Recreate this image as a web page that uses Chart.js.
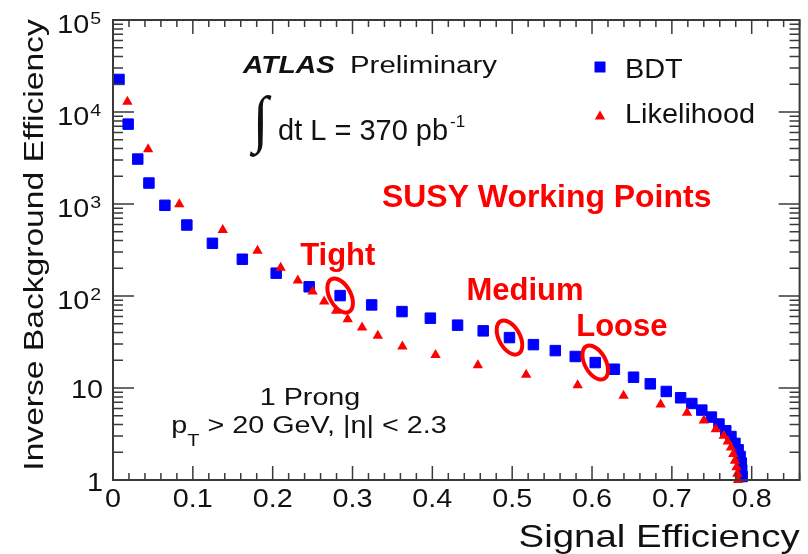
<!DOCTYPE html>
<html lang="en">
<head>
    <meta charset="UTF-8">
    <title>Tau ID: BDT vs Likelihood</title>
    <script src="https://cdn.jsdelivr.net/npm/chart.js"></script>
    <style>
        body {
            margin: 0;
            background-color: #fff;
        }
        #wrap {
            width: 808px;
            height: 554px;
        }
    </style>
</head>
<body>
    <div id="wrap"><canvas id="effChart" width="808" height="554"></canvas></div>

    <script>
        // BDT curve: signal efficiency vs inverse background efficiency
        const bdtEff = [0.0075, 0.019, 0.031, 0.045, 0.065, 0.0925, 0.1245, 0.162, 0.2044, 0.2457,
                        0.2845, 0.324, 0.362, 0.3975, 0.4316, 0.4637, 0.4966, 0.5266, 0.554, 0.579,
                        0.604, 0.628, 0.652, 0.673, 0.693, 0.711, 0.725, 0.7375, 0.7495, 0.759,
                        0.7675, 0.774, 0.779, 0.783, 0.7855, 0.787, 0.7875, 0.788];
        const bdtRej = [22600, 7380, 3080, 1690, 968, 591, 374, 251, 177, 126,
                        101, 80, 67.7, 57.4, 48.2, 41.8, 35.3, 29.6, 25.5, 22,
                        18.9, 16, 13.1, 11.1, 9.17, 7.83, 6.79, 5.75, 4.83, 4.06,
                        3.43, 2.97, 2.5, 2.13, 1.8, 1.53, 1.29, 1.09];

        // Likelihood curve
        const llhEff = [0.018, 0.044, 0.083, 0.1375, 0.181, 0.21, 0.2315, 0.25, 0.2645, 0.2795,
                        0.294, 0.312, 0.3317, 0.3625, 0.404, 0.457, 0.5175, 0.582, 0.6395, 0.686,
                        0.719, 0.74, 0.755, 0.765, 0.77, 0.774, 0.777, 0.779, 0.781, 0.782, 0.783];
        const llhRej = [12900, 3930, 993, 522, 311, 203, 147, 112, 87, 69,
                        56, 45.4, 36.9, 28.2, 22.9, 17.7, 13.9, 10.7, 8.22, 6.6,
                        5.38, 4.44, 3.57, 3.03, 2.62, 2.25, 1.92, 1.62, 1.38, 1.17, 1.0];

        // SUSY working points (index into the BDT curve)
        const wpNames = ['Tight', 'Medium', 'Loose'];
        const wpIndex = [10, 16, 20];

        // axis labels
        const xTicks = [0, 0.1, 0.2, 0.3, 0.4, 0.5, 0.6, 0.7, 0.8];
        const xTickLabels = ['0', '0.1', '0.2', '0.3', '0.4', '0.5', '0.6', '0.7', '0.8'];
        const yDecades = [0, 1, 2, 3, 4, 5];

        const FONT = "'Liberation Sans', Arial, sans-serif";
        const RED = '#ff0000';
        const BLUE = '#0000ff';
        const INK = '#111';

        // text stretched along its baseline (the ROOT fonts run wide)
        function drawText(ctx, str, x, y, o) {
            ctx.save();
            ctx.font = o.font;
            ctx.fillStyle = o.color || INK;
            ctx.textAlign = 'left';
            ctx.textBaseline = 'alphabetic';
            const sx = o.stretch || 1;
            const w = ctx.measureText(str).width * sx;
            let x0 = x;
            if (o.align === 'center') x0 = x - w / 2;
            if (o.align === 'right') x0 = x - w;
            ctx.translate(x0, y);
            ctx.scale(sx, 1);
            ctx.fillText(str, 0, 0);
            ctx.restore();
            return w;
        }

        function textWidth(ctx, str, font, stretch) {
            ctx.save();
            ctx.font = font;
            const w = ctx.measureText(str).width * (stretch || 1);
            ctx.restore();
            return w;
        }

        function squareMark(ctx, cx, cy, s, color) {
            ctx.fillStyle = color;
            ctx.fillRect(cx - s / 2, cy - s / 2, s, s);
        }

        function triangleMark(ctx, cx, cy, w, h, color) {
            ctx.fillStyle = color;
            ctx.beginPath();
            ctx.moveTo(cx, cy - h / 2);
            ctx.lineTo(cx + w / 2, cy + h / 2);
            ctx.lineTo(cx - w / 2, cy + h / 2);
            ctx.closePath();
            ctx.fill();
        }

        const rootStyle = {
            id: 'rootStyle',
            afterDatasetsDraw(chart) {
                const ctx = chart.ctx;
                const a = chart.chartArea;
                const xs = chart.scales.x;
                const ys = chart.scales.y;

                // working point ellipses + labels
                const wpDx = [-40, -43, -19];
                const wpDy = [-31, -38, -27];
                ctx.save();
                ctx.strokeStyle = RED;
                ctx.lineWidth = 4;
                wpIndex.forEach((idx, i) => {
                    const cx = xs.getPixelForValue(bdtEff[idx]);
                    const cy = ys.getPixelForValue(bdtRej[idx]);
                    ctx.beginPath();
                    ctx.ellipse(cx, cy, 10.5, 18.5, -0.5, 0, Math.PI * 2);
                    ctx.stroke();
                    drawText(ctx, wpNames[i], cx + wpDx[i], cy + wpDy[i],
                        { font: 'bold 31px ' + FONT, color: RED });
                });
                ctx.restore();

                // frame
                ctx.save();
                ctx.strokeStyle = '#3a3a3a';
                ctx.lineWidth = 1.5;
                ctx.beginPath();
                for (let i = 0; i <= 43; i++) {
                    const px = xs.getPixelForValue(i * 0.02);
                    const len = (i % 5 === 0) ? 14 : 7;
                    ctx.moveTo(px, a.bottom);
                    ctx.lineTo(px, a.bottom - len);
                    ctx.moveTo(px, a.top);
                    ctx.lineTo(px, a.top + len);
                }
                for (let d = 0; d < 5; d++) {
                    for (let m = 1; m <= 9; m++) {
                        const py = ys.getPixelForValue(m * Math.pow(10, d));
                        const len = (m === 1) ? 21 : 10;
                        ctx.moveTo(a.left, py);
                        ctx.lineTo(a.left + len, py);
                        ctx.moveTo(a.right, py);
                        ctx.lineTo(a.right - len, py);
                    }
                }
                ctx.stroke();
                ctx.lineWidth = 2;
                ctx.strokeRect(a.left, a.top, a.right - a.left, a.bottom - a.top);
                ctx.restore();

                // tick labels
                const tickFont = '25px ' + FONT;
                const supFont = '17px ' + FONT;
                xTicks.forEach((v, i) => {
                    drawText(ctx, xTickLabels[i], xs.getPixelForValue(v), a.bottom + 27,
                        { font: tickFont, stretch: 1.15, align: 'center' });
                });
                yDecades.forEach(d => {
                    const py = ys.getPixelForValue(Math.pow(10, d));
                    if (d === 0) {
                        drawText(ctx, '1', a.left - 10, py + 10.5, { font: tickFont, stretch: 1.15, align: 'right' });
                    } else if (d === 1) {
                        drawText(ctx, '10', a.left - 10, py + 10, { font: tickFont, stretch: 1.15, align: 'right' });
                    } else {
                        const sw = drawText(ctx, String(d), a.left - 12, py + 4, { font: supFont, stretch: 1.15, align: 'right' });
                        drawText(ctx, '10', a.left - 12 - sw - 1, py + 13, { font: tickFont, stretch: 1.15, align: 'right' });
                    }
                });

                // axis titles
                drawText(ctx, 'Signal Efficiency', a.right, 547,
                    { font: '32px ' + FONT, stretch: 1.2, align: 'right' });
                ctx.save();
                ctx.translate(43, 245);
                ctx.rotate(-Math.PI / 2);
                drawText(ctx, 'Inverse Background Efficiency', 0, 0,
                    { font: '28px ' + FONT, stretch: 1.2, align: 'center' });
                ctx.restore();

                // ATLAS label
                drawText(ctx, 'ATLAS', 243, 73, { font: 'italic bold 23.5px ' + FONT, stretch: 1.2 });
                drawText(ctx, 'Preliminary', 350, 73, { font: '23.5px ' + FONT, stretch: 1.25 });

                // luminosity with a tall, thin integral sign
                ctx.save();
                ctx.font = "60px 'Liberation Serif', serif";
                ctx.fillStyle = INK;
                const m = ctx.measureText('\u222B');
                const gw = m.actualBoundingBoxLeft + m.actualBoundingBoxRight;
                const gh = m.actualBoundingBoxAscent + m.actualBoundingBoxDescent;
                ctx.translate(250, 95);
                ctx.scale(22 / gw, 63 / gh);
                ctx.fillText('\u222B', m.actualBoundingBoxLeft, m.actualBoundingBoxAscent);
                ctx.restore();
                const lw = drawText(ctx, 'dt L = 370 pb', 278, 140, { font: '29px ' + FONT });
                drawText(ctx, '-1', 278 + lw + 2, 127, { font: '17px ' + FONT });

                // legend
                squareMark(ctx, 600, 67, 11, BLUE);
                triangleMark(ctx, 600, 115, 10.5, 9, RED);
                drawText(ctx, 'BDT', 625, 78, { font: '27.5px ' + FONT, stretch: 1.05 });
                drawText(ctx, 'Likelihood', 625, 123, { font: '27.5px ' + FONT, stretch: 1.05 });

                drawText(ctx, 'SUSY Working Points', 382, 207,
                    { font: 'bold 31px ' + FONT, stretch: 1.03, color: RED });

                // selection text
                drawText(ctx, '1 Prong', 310, 405, { font: '23px ' + FONT, stretch: 1.25, align: 'center' });
                const mainF = '23px ' + FONT;
                const subF = '16px ' + FONT;
                const rest = ' > 20 GeV, |\u03B7| < 2.3';
                const total = textWidth(ctx, 'p', mainF, 1.25) + textWidth(ctx, 'T', subF, 1.25) + textWidth(ctx, rest, mainF, 1.25);
                let px = 309 - total / 2;
                px += drawText(ctx, 'p', px, 433, { font: mainF, stretch: 1.25 });
                px += drawText(ctx, 'T', px, 446, { font: subF, stretch: 1.25 });
                drawText(ctx, rest, px, 433, { font: mainF, stretch: 1.25 });
            }
        };

        new Chart(document.getElementById('effChart'), {
            type: 'scatter',
            data: {
                datasets: [{
                    label: 'Likelihood',
                    data: llhEff.map((v, i) => ({ x: v, y: llhRej[i] })),
                    pointStyle: 'triangle',
                    pointRadius: 6,
                    backgroundColor: RED,
                    borderColor: RED,
                    borderWidth: 0,
                    showLine: false,
                    clip: false
                }, {
                    label: 'BDT',
                    data: bdtEff.map((v, i) => ({ x: v, y: bdtRej[i] })),
                    pointStyle: 'rect',
                    pointRadius: 7.4,
                    backgroundColor: BLUE,
                    borderColor: BLUE,
                    borderWidth: 1,
                    showLine: false,
                    clip: false
                }]
            },
            options: {
                responsive: false,
                animation: false,
                events: [],
                layout: {
                    padding: { left: 113, top: 20, right: 8, bottom: 74 }
                },
                scales: {
                    x: { type: 'linear', min: 0, max: 0.86, display: false },
                    y: { type: 'logarithmic', min: 1, max: 100000, display: false }
                },
                plugins: {
                    legend: { display: false },
                    tooltip: { enabled: false }
                }
            },
            plugins: [rootStyle]
        });
    </script>
</body>
</html>
